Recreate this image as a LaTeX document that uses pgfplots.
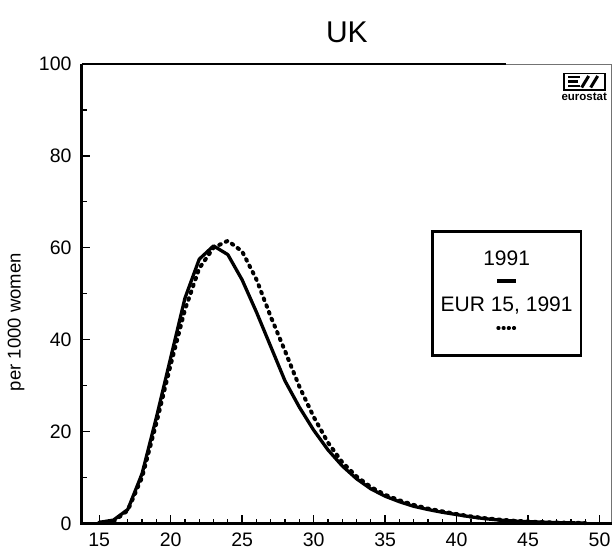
\documentclass[border=0pt]{standalone}
\usepackage{pgfplots}
\pgfplotsset{compat=1.18}
\usepackage{fontspec}
\setmainfont{Liberation Sans}

\pgfplotstableread{
age val
15 0.2
16 0.7
17 3.0
18 10.8
19 23.0
20 36.0
21 49.0
22 57.5
23 60.4
24 58.5
25 53.0
26 46.0
27 38.5
28 31.0
29 25.3
30 20.3
31 16.0
32 12.5
33 9.7
34 7.5
35 5.9
36 4.7
37 3.7
38 3.0
39 2.4
40 1.9
41 1.4
42 1.0
43 0.7
44 0.5
45 0.35
46 0.25
47 0.15
48 0.1
49 0.05
}\uk

\pgfplotstableread{
age val
15 0.1
16 0.4
17 2.8
18 10.0
19 21.8
20 34.5
21 46.5
22 55.5
23 60.0
24 61.5
25 59.2
26 53.1
27 45.0
28 37.5
29 29.8
30 23.2
31 17.6
32 13.3
33 10.2
34 7.9
35 6.2
36 5.0
37 4.0
38 3.2
39 2.6
40 2.0
41 1.5
42 1.1
43 0.8
44 0.55
45 0.4
46 0.25
47 0.15
48 0.1
49 0.05
}\eur

\begin{document}
\begin{tikzpicture}
\begin{axis}[
  name=ax,
  scale only axis, width=529.7pt, height=459.3pt,
  xmin=13.8, xmax=50.85, ymin=0, ymax=100,
  xtick={15,20,...,50}, ytick={0,20,...,100},
  minor x tick num=4, minor y tick num=1,
  tick pos=left, tick align=inside,
  major tick length=8pt, minor tick length=4.5pt,
  every tick/.style={black, line width=1.3pt},
  axis line style={line width=0.7pt, black!55},
  ticklabel style={font=\fontsize{19.5}{20}\selectfont},
  /pgf/number format/assume math mode=true,
  yticklabel style={xshift=-7pt},
  xticklabel style={yshift=-6pt},
  clip=false,
]
\addplot[black, line width=3.3pt, line join=round] table[x=age,y=val] {\uk};
\addplot[black, line width=4pt, line cap=round, dash pattern=on 1.6pt off 5.6pt] table[x=age,y=val] {\eur};

% frame
\draw[line width=3pt] (rel axis cs:0,1) -- (rel axis cs:0,0) -- (rel axis cs:1,0);
\draw[line width=1.6pt] (rel axis cs:0,1) -- (rel axis cs:0.8,1);

% legend box
\draw[line width=2.8pt] (axis cs:38.3,63.5) rectangle (axis cs:48.7,36.6);
\node[font=\fontsize{21}{22}\selectfont] at (axis cs:43.5,57.8) {1991};
\draw[line width=3.4pt] (axis cs:42.85,52.75) -- (axis cs:44.15,52.75);
\node[font=\fontsize{21}{22}\selectfont] at (axis cs:43.5,47.5) {EUR 15, 1991};
\draw[line width=3.4pt, line cap=round, dash pattern=on 0.8pt off 4.4pt] (axis cs:42.9,42.5) -- (axis cs:44.15,42.5);

% eurostat logo
\draw[line width=1.6pt] ([xshift=-48pt,yshift=-9.5pt]rel axis cs:1,1) rectangle ([xshift=-7pt,yshift=-26pt]rel axis cs:1,1);
\fill ([xshift=-44pt,yshift=-12pt]rel axis cs:1,1) rectangle ([xshift=-32pt,yshift=-14.5pt]rel axis cs:1,1);
\fill ([xshift=-44pt,yshift=-16.5pt]rel axis cs:1,1) rectangle ([xshift=-34pt,yshift=-19pt]rel axis cs:1,1);
\fill ([xshift=-44pt,yshift=-21pt]rel axis cs:1,1) rectangle ([xshift=-32pt,yshift=-23.5pt]rel axis cs:1,1);
\draw[line width=3pt] ([xshift=-30pt,yshift=-23.5pt]rel axis cs:1,1) -- ([xshift=-23pt,yshift=-12pt]rel axis cs:1,1);
\draw[line width=3pt] ([xshift=-21pt,yshift=-23.5pt]rel axis cs:1,1) -- ([xshift=-14pt,yshift=-12pt]rel axis cs:1,1);
\node[inner sep=0pt, font=\bfseries\fontsize{11.5}{12}\selectfont] at ([xshift=-27.5pt,yshift=-33pt]rel axis cs:1,1) {eurostat};

% labels
\node[rotate=90, font=\fontsize{18.5}{20}\selectfont] at ([xshift=-66pt]rel axis cs:0,0.438) {per 1000 women};
\node[font=\fontsize{30}{32}\selectfont] at ([yshift=32pt]rel axis cs:0.5,1) {UK};
\end{axis}
\pgfresetboundingbox
\path ([xshift=-82pt,yshift=-35pt]ax.south west) rectangle ([xshift=1.3pt,yshift=64pt]ax.north east);
\end{tikzpicture}
\end{document}
